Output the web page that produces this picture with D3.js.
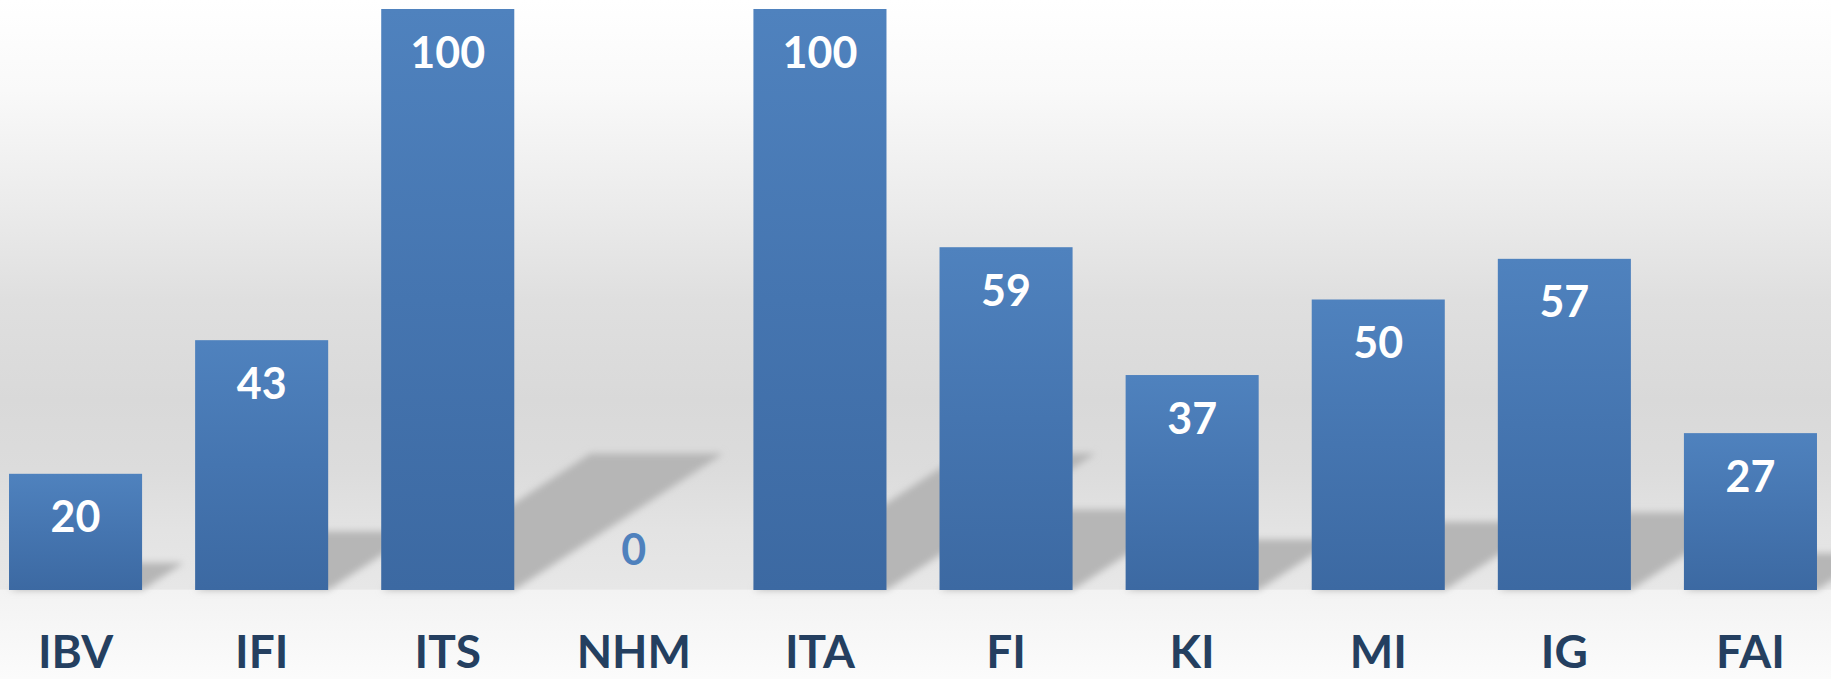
<!DOCTYPE html>
<html>
<head>
<meta charset="utf-8">
<script src="https://cdn.jsdelivr.net/npm/d3@7"></script>
<style>
  html, body { margin: 0; padding: 0; background: #ffffff; }
  svg { display: block; }
</style>
</head>
<body>
<svg id="chart" width="1831" height="679"></svg>
<script>
const categories = ["IBV", "IFI", "ITS", "NHM", "ITA", "FI", "KI", "MI", "IG", "FAI"];
const values = [20, 43, 100, 0, 100, 59, 37, 50, 57, 27];
const yDomain = [0, 100];

const W = 1831, H = 679;
const svg = d3.select("#chart");
const defs = svg.append("defs");

// background wall/floor gradient
const bg = defs.append("linearGradient").attr("id", "bgGrad")
  .attr("gradientUnits", "userSpaceOnUse").attr("x1", 0).attr("y1", 0).attr("x2", 0).attr("y2", H);
[[0, "#ffffff"], [90, "#f9f9f9"], [200, "#ececec"], [300, "#dfdfdf"], [400, "#d9d9d9"],
 [470, "#dcdcdc"], [530, "#e3e3e3"], [589, "#e7e7e7"], [590.5, "#f3f3f3"], [679, "#fbfbfb"]]
  .forEach(([y, c]) => bg.append("stop").attr("offset", (y / H)).attr("stop-color", c));

const barGrad = defs.append("linearGradient").attr("id", "barGrad")
  .attr("x1", 0).attr("y1", 0).attr("x2", 0).attr("y2", 1);
barGrad.append("stop").attr("offset", 0).attr("stop-color", "#4f82be");
barGrad.append("stop").attr("offset", 0.5).attr("stop-color", "#4575b0");
barGrad.append("stop").attr("offset", 1).attr("stop-color", "#3c69a2");

const blur = defs.append("filter").attr("id", "shadowBlur")
  .attr("x", "-20%").attr("y", "-20%").attr("width", "140%").attr("height", "140%");
blur.append("feGaussianBlur").attr("stdDeviation", 3.5);

svg.append("rect").attr("x", 0).attr("y", 0).attr("width", W).attr("height", H).attr("fill", "url(#bgGrad)");

const x = d3.scaleBand().domain(categories).range([-17.5, 1843.5])
  .paddingInner(0.285).paddingOuter(0.1425);
const y = d3.scaleLinear().domain(yDomain).range([590, 9]);

const data = categories.map((c, i) => ({ c, v: values[i] }));
const bw = x.bandwidth();

// perspective shadows
svg.append("g").attr("filter", "url(#shadowBlur)")
  .selectAll("polygon").data(data.filter(d => d.v > 0)).join("polygon")
  .attr("fill", "#b6b6b6")
  .attr("points", d => {
    const x0 = x(d.c), x1 = x0 + bw, base = y(0), h = y(0) - y(d.v);
    const dx = 0.36 * h, dy = 0.235 * h;
    return [[x0, base], [x1, base], [x1 + dx, base - dy], [x0 + dx, base - dy]].map(p => p.join(",")).join(" ");
  });

// bars
svg.append("g").selectAll("rect").data(data.filter(d => d.v > 0)).join("rect")
  .attr("x", d => x(d.c)).attr("width", bw)
  .attr("y", d => y(d.v)).attr("height", d => y(0) - y(d.v))
  .attr("fill", "url(#barGrad)");

// value labels
svg.append("g").selectAll("text").data(data).join("text")
  .attr("x", d => x(d.c) + bw / 2)
  .attr("y", d => Math.min(y(d.v) + 58.5, y(0) - 25))
  .attr("text-anchor", "middle")
  .attr("font-family", "Lato, 'Open Sans', sans-serif")
  .attr("font-weight", 700).attr("font-size", 43)
  .attr("fill", d => d.v === 0 ? "#4f81bd" : "#ffffff")
  .text(d => d.v);

// category axis (no line/ticks)
const axis = svg.append("g").attr("transform", `translate(0,${y(0)})`)
  .call(d3.axisBottom(x).tickSize(0).tickPadding(0));
axis.select(".domain").remove();
axis.selectAll("text")
  .attr("y", 78).attr("dy", 0)
  .attr("font-family", "Lato, 'Open Sans', sans-serif")
  .attr("font-weight", 700).attr("font-size", 46)
  .attr("fill", "#243f60");
</script>
</body>
</html>
